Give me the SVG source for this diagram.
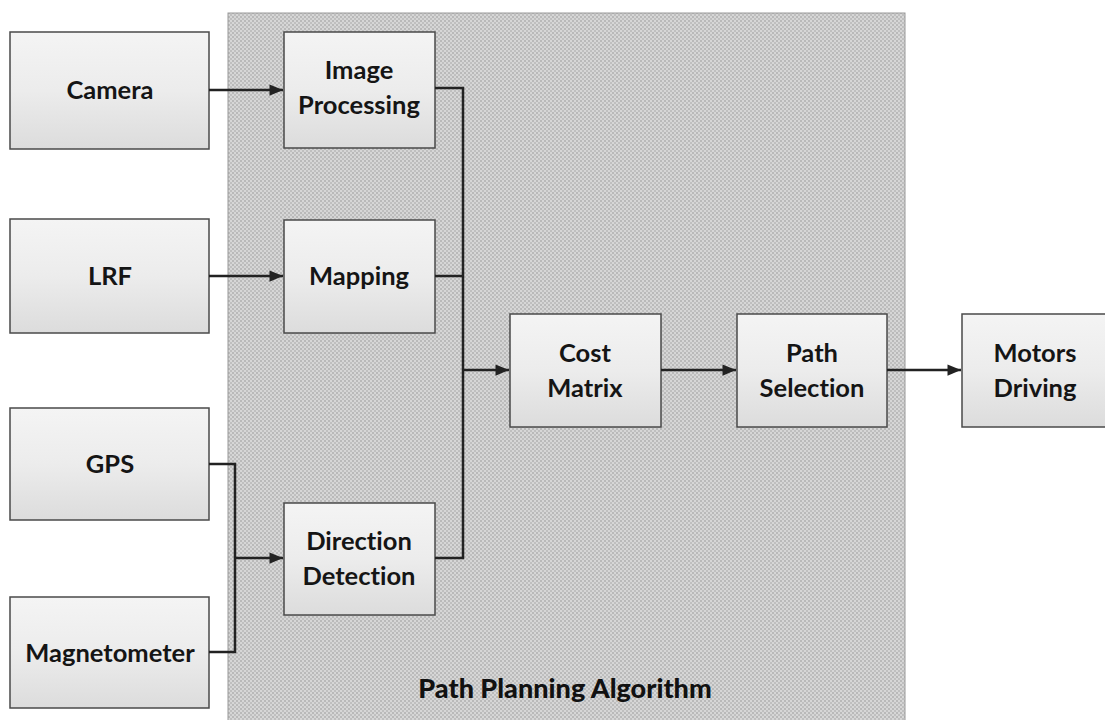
<svg xmlns="http://www.w3.org/2000/svg" width="1105" height="720" viewBox="0 0 1105 720">
<defs>
<pattern id="dots" width="4" height="4" patternUnits="userSpaceOnUse">
<rect width="4" height="4" fill="#d6d6d6"/>
<rect x="0" y="0" width="2" height="2" fill="#b9b9b9"/>
<rect x="2" y="2" width="2" height="2" fill="#bfbfbf"/>
</pattern>
<linearGradient id="boxg" x1="0" y1="0" x2="0" y2="1">
<stop offset="0" stop-color="#f4f4f4"/>
<stop offset="0.5" stop-color="#ececec"/>
<stop offset="1" stop-color="#dcdcdc"/>
</linearGradient>
<marker id="arr" viewBox="0 0 12 10" refX="12" refY="5" markerWidth="6" markerHeight="4.5" orient="auto" markerUnits="strokeWidth">
<path d="M0,0 L12,5 L0,10 z" fill="#222"/>
</marker>
</defs>
<style>
.box{fill:url(#boxg);stroke:#4a4a4a;stroke-width:1.5}
.t{font-family:Lato,"Open Sans","Liberation Sans",sans-serif;font-size:25.5px;font-weight:700;fill:#151515;text-anchor:middle;font-variant-ligatures:none}
.c{fill:none;stroke:#222;stroke-width:2.5}
.ca{fill:none;stroke:#222;stroke-width:2.5;marker-end:url(#arr)}
</style>
<rect width="1105" height="720" fill="#ffffff"/>
<g id="planning">
<rect x="228" y="13" width="677" height="720" fill="url(#dots)" stroke="#9a9a9a" stroke-width="1"/>
<text x="565" y="698" style="font-family:Lato,'Open Sans','Liberation Sans',sans-serif;font-size:27px;font-weight:900;fill:#111;text-anchor:middle;font-variant-ligatures:none">Path Planning Algorithm</text>
</g>
<g id="camera"><rect class="box" x="10" y="32" width="199" height="117"/><text class="t" x="110" y="99">Camera</text></g>
<g id="lrf"><rect class="box" x="10" y="219" width="199" height="114"/><text class="t" x="110" y="285">LRF</text></g>
<g id="gps"><rect class="box" x="10" y="408" width="199" height="112"/><text class="t" x="110" y="473">GPS</text></g>
<g id="magnetometer"><rect class="box" x="10" y="597" width="199" height="111"/><text class="t" x="110" y="662">Magnetometer</text></g>
<g id="image-processing"><rect class="box" x="284" y="32" width="151" height="116"/><text class="t" x="359" y="79">Image</text><text class="t" x="359" y="114">Processing</text></g>
<g id="mapping"><rect class="box" x="284" y="220" width="151" height="113"/><text class="t" x="359" y="285">Mapping</text></g>
<g id="direction-detection"><rect class="box" x="284" y="503" width="151" height="112"/><text class="t" x="359" y="550">Direction</text><text class="t" x="359" y="585">Detection</text></g>
<g id="cost-matrix"><rect class="box" x="510" y="314" width="151" height="113"/><text class="t" x="585" y="362">Cost</text><text class="t" x="585" y="397">Matrix</text></g>
<g id="path-selection"><rect class="box" x="737" y="314" width="150" height="113"/><text class="t" x="812" y="362">Path</text><text class="t" x="812" y="397">Selection</text></g>
<g id="motors-driving"><rect class="box" x="962" y="314" width="150" height="113"/><text class="t" x="1035" y="362">Motors</text><text class="t" x="1035" y="397">Driving</text></g>
<g id="connectors">
<path class="ca" d="M209,90 H283"/>
<path class="ca" d="M209,276 H283"/>
<path class="c" d="M435,88 H463 V558 H435"/>
<path class="c" d="M435,276 H463"/>
<path class="ca" d="M463,370 H509"/>
<path class="c" d="M209,464 H235 V652 H209"/>
<path class="ca" d="M235,558 H283"/>
<path class="ca" d="M661,370 H736"/>
<path class="ca" d="M887,370 H961"/>
</g>
</svg>
